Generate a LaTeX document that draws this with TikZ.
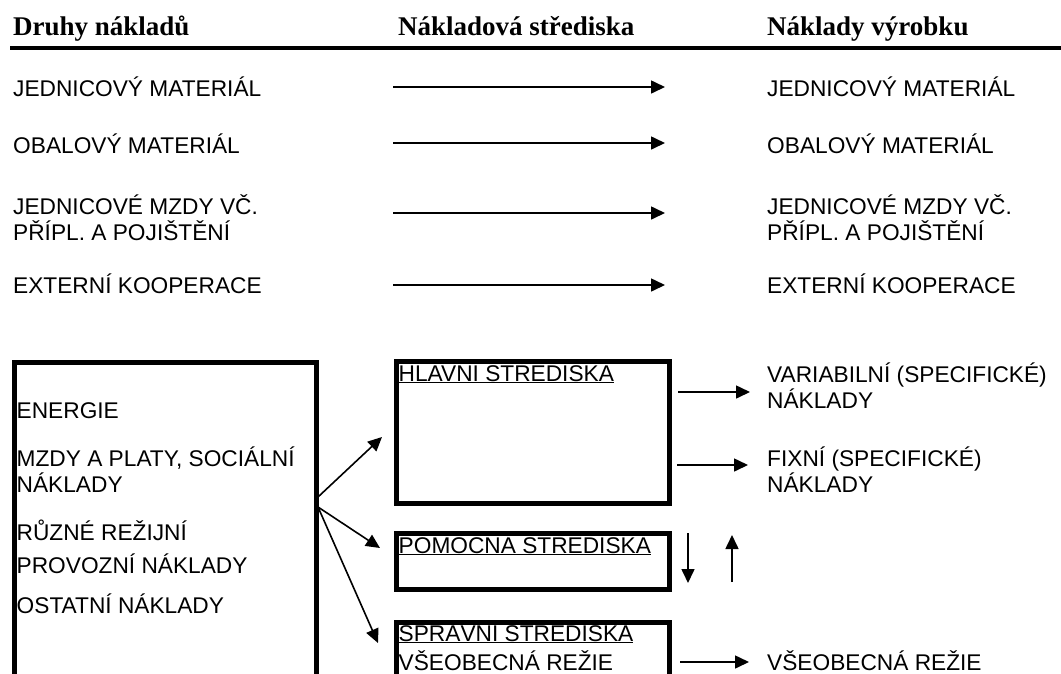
\documentclass[tikz,border=0pt]{standalone}
\usepackage{fontspec}
\setmainfont{Liberation Serif}
\setsansfont{Liberation Sans}
\usepackage{tikz}
\usetikzlibrary{arrows.meta}

\tikzset{
  head/.style={anchor=base west, inner sep=0pt, font=\fontsize{27}{32}\selectfont\bfseries},
  item/.style={anchor=base west, inner sep=0pt, align=left, font=\sffamily\fontsize{22.7}{25.5}\selectfont},
  costbox/.style={draw, line width=4.5pt, anchor=north west, inner sep=0pt},
  flow/.style={line width=1.6pt, -{Triangle[length=14pt,width=13pt]}}
}

\begin{document}
\begin{tikzpicture}[x=1pt, y=-1pt]
        \path[use as bounding box, clip] (0,0) rectangle (1061,673);

        % headings
        \node[head] (h1) at (13,35) {Druhy nákladů};
        \node[head] (h2) at (398,35) {Nákladová střediska};
        \node[head] (h3) at (767,35) {Náklady výrobku};
        \coordinate (rule1) at (10,47.5);
        \coordinate (rule2) at (1061,47.5);
        \draw[line width=4pt] (rule1) -- (rule2);

        % direct costs
        \node[item] (l1) at (13,96) {JEDNICOVÝ MATERIÁL};
        \node[item] (l2) at (13,153) {OBALOVÝ MATERIÁL};
        \node[item] (l3) at (13,240) {JEDNICOVÉ MZDY VČ.\\PŘÍPL. A POJIŠTĚNÍ};
        \node[item] (l4) at (13,293) {EXTERNÍ KOOPERACE};
        \node[item] (r1) at (767,96) {JEDNICOVÝ MATERIÁL};
        \node[item] (r2) at (767,153) {OBALOVÝ MATERIÁL};
        \node[item] (r3) at (767,240) {JEDNICOVÉ MZDY VČ.\\PŘÍPL. A POJIŠTĚNÍ};
        \node[item] (r4) at (767,293) {EXTERNÍ KOOPERACE};

        \coordinate (s1) at (393,87);
        \coordinate (e1) at (665,87);
        \coordinate (s2) at (393,143);
        \coordinate (e2) at (665,143);
        \coordinate (s3) at (393,213);
        \coordinate (e3) at (665,213);
        \coordinate (s4) at (393,285);
        \coordinate (e4) at (665,285);
        \draw[flow] (s1) -- (e1);
        \draw[flow] (s2) -- (e2);
        \draw[flow] (s3) -- (e3);
        \draw[flow] (s4) -- (e4);

        % overheads
        \node[costbox, minimum width=302pt, minimum height=340pt] (druhy) at (12,360) {};
        \node[item] (energie) at (16.5,418) {ENERGIE};
        \node[item] (mzdy) at (16.5,492) {MZDY A PLATY, SOCIÁLNÍ\\NÁKLADY};
        \node[item] (ruzne) at (16.5,573) {RŮZNÉ REŽIJNÍ\\[7pt]PROVOZNÍ NÁKLADY};
        \node[item] (ostatni) at (16.5,613) {OSTATNÍ NÁKLADY};

        \node[costbox, minimum width=273pt, minimum height=142pt] (hlavni) at (394,359) {};
        \node[costbox, minimum width=273pt, minimum height=56pt] (pomocna) at (394,531) {};
        \node[costbox, minimum width=273pt, minimum height=100pt] (spravni) at (394,620) {};
        \node[item] (hlavnit) at (398.5,381) {\underline{HLAVNÍ STŘEDISKA}};
        \node[item] (pomocnat) at (398.5,553) {\underline{POMOCNÁ STŘEDISKA}};
        \node[item] (spravnit) at (398.5,670) {\underline{SPRÁVNÍ STŘEDISKA}\\[3.5pt]VŠEOBECNÁ REŽIE};

        \coordinate (fork1) at (318,497);
        \coordinate (fork2) at (318,507);
        \coordinate (t1) at (382,437);
        \coordinate (t2) at (380,548);
        \coordinate (t3) at (378,643);
        \draw[flow] (fork1) -- (t1);
        \draw[flow] (fork2) -- (t2);
        \draw[flow] (fork2) -- (t3);

        % product costs
        \node[item] (variab) at (767,408) {VARIABILNÍ (SPECIFICKÉ)\\NÁKLADY};
        \node[item] (fixni) at (767,492) {FIXNÍ (SPECIFICKÉ)\\NÁKLADY};
        \node[item] (vseob) at (767,670) {VŠEOBECNÁ REŽIE};

        \coordinate (va) at (678,392);
        \coordinate (vb) at (750,392);
        \coordinate (fa) at (677,465);
        \coordinate (fb) at (748,465);
        \coordinate (oa) at (680,662);
        \coordinate (ob) at (749,662);
        \coordinate (dn1) at (688,533);
        \coordinate (dn2) at (688,583);
        \coordinate (up1) at (732,582);
        \coordinate (up2) at (732,535);
        \draw[flow] (va) -- (vb);
        \draw[flow] (fa) -- (fb);
        \draw[flow] (oa) -- (ob);
        \draw[flow] (dn1) -- (dn2);
        \draw[flow] (up1) -- (up2);

        \end{tikzpicture}
\end{document}
